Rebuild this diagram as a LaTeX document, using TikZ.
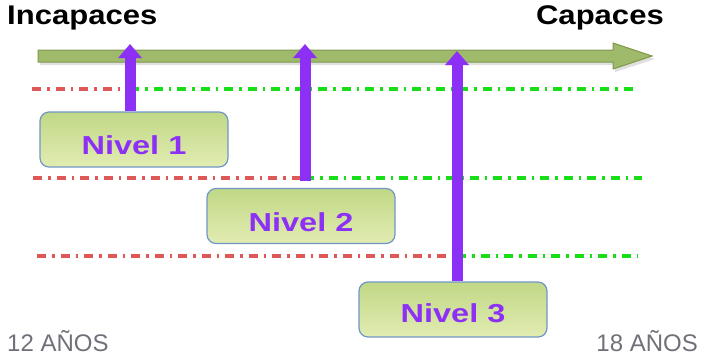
\documentclass[tikz,border=0pt]{standalone}
\usepackage{fontspec}
\setmainfont{Liberation Sans}
\newfontfamily\titlefont[FakeStretch=1.15]{Liberation Sans}
\newfontfamily\levelfont[FakeStretch=1.25]{Liberation Sans}
\usetikzlibrary{arrows.meta}
\definecolor{olivefill}{RGB}{160,186,108}
\definecolor{oliveedge}{RGB}{128,152,78}
\definecolor{purp}{RGB}{140,48,246}
\definecolor{reddash}{RGB}{222,88,88}
\definecolor{greendash}{RGB}{24,222,24}
\definecolor{boxtop}{RGB}{192,216,134}
\definecolor{boxbottom}{RGB}{226,236,178}
\definecolor{boxedge}{RGB}{112,150,200}
\definecolor{agegray}{RGB}{112,112,122}
\begin{document}
\begin{tikzpicture}[x=1pt,y=-1pt,
  levelbox/.style={draw=boxedge, line width=1.2pt, rounded corners=9pt,
    top color=boxtop, bottom color=boxbottom,
    minimum width=188pt, minimum height=55pt, inner sep=0pt,
    font=\levelfont\bfseries\fontsize{26}{26}\selectfont, text=purp},
  titletext/.style={inner sep=0pt, font=\titlefont\bfseries\fontsize{27}{27}\selectfont, text=black},
  agetext/.style={inner sep=0pt, font=\fontsize{24}{24}\selectfont, text=agegray},
  redline/.style={draw=reddash, line width=3.6pt, dash pattern=on 9pt off 6pt on 2.5pt off 6pt},
  greenline/.style={draw=greendash, line width=3.6pt, dash pattern=on 9pt off 6pt on 2.5pt off 6pt},
  purparrow/.style={draw=purp, line width=11pt, -{Triangle[width=23pt,length=14pt]}}
]
\useasboundingbox (0,0) rectangle (701,356);

% main axis arrow (shadow + body)
\fill[black!25, opacity=0.5] (40,53) -- (615,53) -- (615,46) -- (655,59) -- (615,72) -- (615,65) -- (40,65) -- cycle;
\fill[olivefill, draw=oliveedge, line width=1pt] (38,50) -- (613,50) -- (613,43) -- (652,56) -- (613,69) -- (613,62) -- (38,62) -- cycle;

% titles
\node[titletext, anchor=west] (inc) at (7,18) {Incapaces};
\node[titletext, anchor=east] (cap) at (664,18) {Capaces};
\node[agetext, anchor=west] (a12) at (7,341) {12 AÑOS};
\node[agetext, anchor=east] (a18) at (698,341) {18 AÑOS};

% level dash lines
\coordinate (l1a) at (32,89);  \coordinate (l1m) at (130,89); \coordinate (l1b) at (636,89);
\coordinate (l2a) at (33,178); \coordinate (l2m) at (305,178); \coordinate (l2b) at (642,178);
\coordinate (l3a) at (37,256); \coordinate (l3m) at (457,256); \coordinate (l3b) at (637,256);
\draw[redline] (l1a) -- (l1m);
\draw[greenline] (l1m) -- (l1b);
\draw[redline] (l2a) -- (l2m);
\draw[greenline] (l2m) -- (l2b);
\draw[redline] (l3a) -- (l3m);
\draw[greenline] (l3m) -- (l3b);

% level boxes
\node[levelbox] (n1) at (134,139.5) {\raisebox{-15pt}[0pt][0pt]{Nivel 1}};
\node[levelbox] (n2) at (301,216) {\raisebox{-15pt}[0pt][0pt]{Nivel 2}};
\node[levelbox] (n3) at (453,309.5) {\raisebox{-13pt}[0pt][0pt]{Nivel 3}};

% purple arrows
\coordinate (t1) at (130,44);
\coordinate (t2) at (305,44);
\coordinate (t3) at (457,51);
\draw[purparrow] ([xshift=-4pt]n1.north) -- (t1);
\draw[purparrow] ([xshift=4pt,yshift=7pt]n2.north) -- (t2);
\draw[purparrow] ([xshift=4pt]n3.north) -- (t3);
\end{tikzpicture}
\end{document}
